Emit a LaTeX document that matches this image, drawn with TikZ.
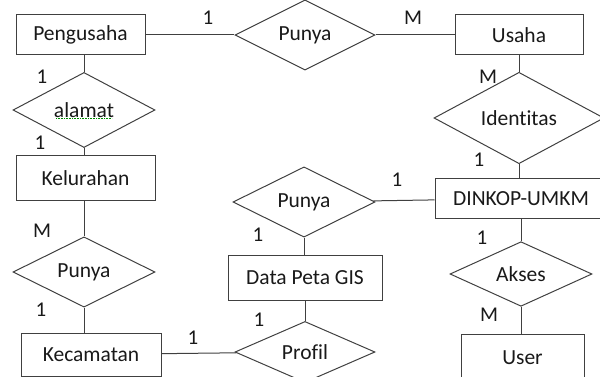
\documentclass[tikz,border=0pt]{standalone}
\usepackage{fontspec}
\setmainfont[Ligatures=NoCommon]{Carlito}
\usetikzlibrary{shapes.geometric}

\begin{document}
\begin{tikzpicture}[x=1pt, y=-1pt,
	garis/.style = {draw = black!75, line width = 1pt},
	entitas/.style = {draw = black!75, line width = 1pt,
					  shape = rectangle, inner sep = 0pt,
					  text = black!90, font = \fontsize{21.5}{25}\selectfont},
	relasi/.style = {draw = black!75, line width = 1pt,
					 shape = diamond, inner sep = 0pt, aspect = 1,
					 text = black!90, font = \fontsize{21.5}{25}\selectfont},
	kardinal/.style = {text = black!90, inner sep = 0pt,
					   font = \fontsize{21}{25}\selectfont}]

	\useasboundingbox (0,0) rectangle (600,377);
	\clip (0,0) rectangle (600,377);

	% entitas
	\draw (80.5,35) node[entitas,
					 minimum width = 129pt,
					 minimum height = 40pt] (pengusaha) {Pengusaha};
	
	\draw (519,35) node[entitas,
					 minimum width = 128pt,
					 minimum height = 40pt] (usaha) {Usaha};
					 
	\draw (85.5,178) node[entitas,
					 minimum width = 139pt,
					 minimum height = 44pt] (kelurahan) {Kelurahan};
					 
	\draw (91,354.5) node[entitas,
					 minimum width = 140pt,
					 minimum height = 43pt] (kecamatan) {Kecamatan};
					 
	\draw (521,198.5) node[entitas,
					 minimum width = 172pt,
					 minimum height = 39pt] (dinkop) {DINKOP-UMKM};
					 
	\draw (305,277.5) node[entitas,
					 minimum width = 154pt,
					 minimum height = 45pt] (gis) {Data Peta GIS};
					 
	\draw (522.5,358) node[entitas,
					 minimum width = 123pt,
					 minimum height = 48pt] (user) {User};

	% relasi
	\draw (305,35) node[relasi,
					 minimum width = 140pt,
					 minimum height = 58pt] (punyaA) {Punya};
					 
	\draw (84,110) node[relasi,
					 minimum width = 142pt,
					 minimum height = 56pt] (alamat) {alamat};
					 
	\draw (84,272) node[relasi,
					 minimum width = 142pt,
					 minimum height = 58pt] (punyaB) {Punya};
					 
	\draw (519,118) node[relasi,
					 minimum width = 170pt,
					 minimum height = 58pt] (identitas) {Identitas};
					 
	\draw (304,202) node[relasi,
					 minimum width = 142pt,
					 minimum height = 58pt] (punyaC) {Punya};
					 
	\draw (305,352) node[relasi,
					 minimum width = 140pt,
					 minimum height = 60pt] (profil) {Profil};
					 
	\draw (521,274) node[relasi,
					 minimum width = 142pt,
					 minimum height = 58pt] (akses) {Akses};

	% garis spell check di bawah alamat
	\draw[green!55!black, densely dotted, line width = 0.6pt]
			(56,118.5) -- (112,118.5);

	% garis penghubung
	\draw[garis] (pengusaha) -- (punyaA);
	\draw[garis] (punyaA) -- (usaha);
	\draw[garis] (alamat.north |- pengusaha.south) -- (alamat);
	\draw[garis] (alamat) -- (alamat.south |- kelurahan.north);
	\draw[garis] (punyaB.north |- kelurahan.south) -- (punyaB);
	\draw[garis] (punyaB) -- (punyaB.south |- kecamatan.north);
	\draw[garis] (kecamatan) -- (profil);
	\draw[garis] (usaha) -- (identitas.north);
	\draw[garis] (identitas.south) -- (identitas.south |- dinkop.north);
	\draw[garis] (punyaC) -- (dinkop);
	\draw[garis] (punyaC.south) -- (punyaC.south |- gis.north);
	\draw[garis] (profil.north |- gis.south) -- (profil.north);
	\draw[garis] (akses.north |- dinkop.south) -- (akses);
	\draw[garis] (akses) -- (akses.south |- user.north);

	% kardinalitas
	\draw (208,18) node[kardinal] (k1) {1};
	\draw (413,18) node[kardinal] (k2) {M};
	\draw (42,77) node[kardinal] (k3) {1};
	\draw (40,143) node[kardinal] (k4) {1};
	\draw (42,231) node[kardinal] (k5) {M};
	\draw (41,310) node[kardinal] (k6) {1};
	\draw (193,338) node[kardinal] (k7) {1};
	\draw (258,235) node[kardinal] (k8) {1};
	\draw (259,320) node[kardinal] (k9) {1};
	\draw (397,180) node[kardinal] (k10) {1};
	\draw (488,77) node[kardinal] (k11) {M};
	\draw (479,160) node[kardinal] (k12) {1};
	\draw (482,238) node[kardinal] (k13) {1};
	\draw (489,315) node[kardinal] (k14) {M};
\end{tikzpicture}
\end{document}
